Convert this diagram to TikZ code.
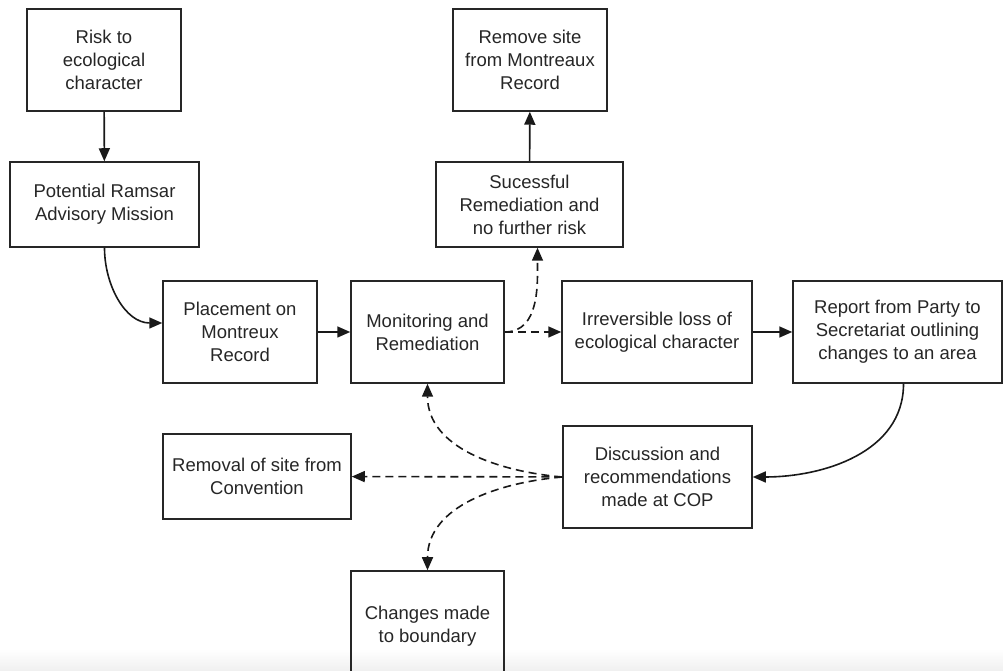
\documentclass[tikz,border=0pt]{standalone}
\usepackage{fontspec}
\setmainfont{Liberation Sans}
\usetikzlibrary{arrows.meta}

\begin{document}
\begin{tikzpicture}[x=1pt, y=1pt,
  box/.style={draw=black!85, line width=1.5pt, align=center, inner sep=0pt,
    font=\fontsize{18.5}{23}\selectfont, text=black!85},
  flow/.style={line width=1.6pt, draw=black!90, -{Triangle[length=13pt,width=11pt]}},
  maybe/.style={flow, dash pattern=on 8pt off 5pt}]

  \useasboundingbox (0,0) rectangle (1003,671);
  \shade[top color=white, bottom color=black!6] (0,0) rectangle (1003,22);

  \node[box, minimum width=154pt, minimum height=102pt] (risk) at (104,611) {Risk to\\ecological\\character};
  \node[box, minimum width=189pt, minimum height=85pt] (advisory) at (104.5,466.5) {Potential Ramsar\\Advisory Mission};
  \node[box, minimum width=154pt, minimum height=102pt] (placement) at (240,339) {Placement on\\Montreux\\Record};
  \node[box, minimum width=153pt, minimum height=102pt] (monitor) at (427.5,339) {Monitoring and\\Remediation};
  \node[box, minimum width=154pt, minimum height=102pt] (remove) at (530,611) {Remove site\\from Montreaux\\Record};
  \node[box, minimum width=187pt, minimum height=85pt] (success) at (529.5,466.5) {Sucessful\\Remediation and\\no further risk};
  \node[box, minimum width=190pt, minimum height=102pt] (loss) at (657,339) {Irreversible loss of\\ecological character};
  \node[box, minimum width=209pt, minimum height=102pt] (report) at (897.5,339) {Report from Party to\\Secretariat outlining\\changes to an area};
  \node[box, minimum width=189pt, minimum height=102pt] (discuss) at (657.5,194) {Discussion and\\recommendations\\made at COP};
  \node[box, minimum width=188pt, minimum height=85pt] (removal) at (257,194.5) {Removal of site from\\Convention};
  \node[box, minimum width=153pt, minimum height=110pt] (changes) at (427.5,45) {Changes made\\to boundary};

  \draw[flow] (risk) -- (advisory);
  \draw[flow] (advisory.south) to[out=-90, in=180] ([yshift=9pt]placement.west);
  \draw[flow] (placement) -- (monitor);
  \draw[maybe] (monitor) -- (loss);
  \draw[maybe] (monitor.east) to[out=0, in=-90] ([xshift=8pt]success.south);
  \draw[flow] (success) -- (remove);
  \draw[flow] (loss) -- (report);
  \draw[flow] ([xshift=6pt]report.south) to[out=-90, in=0] (discuss.east);
  \draw[maybe] (discuss) -- (removal);
  \draw[maybe] (discuss.west) to[out=175, in=-90] (monitor.south);
  \draw[maybe] (discuss.west) to[out=185, in=90] (changes.north);
\end{tikzpicture}
\end{document}
